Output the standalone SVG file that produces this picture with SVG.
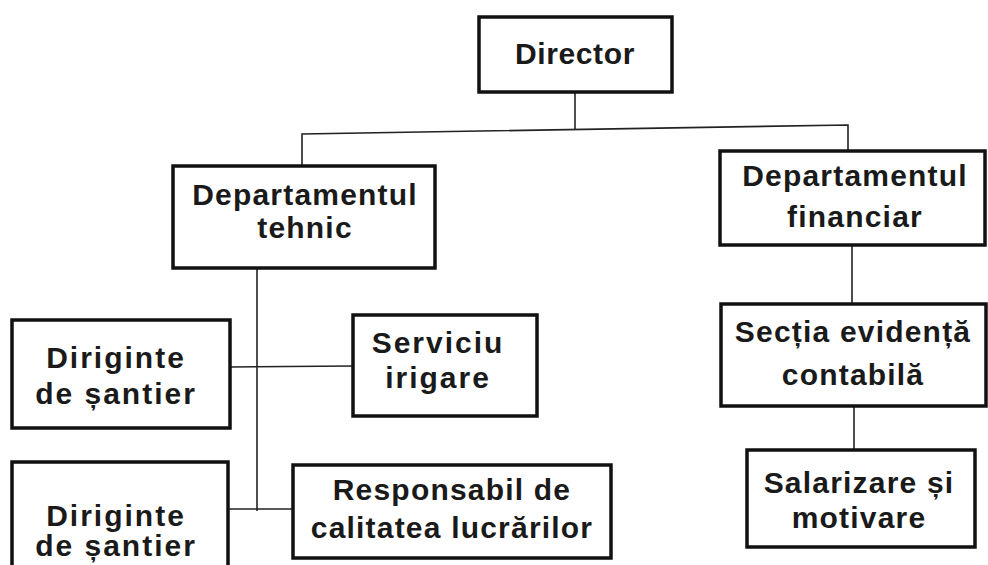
<svg xmlns="http://www.w3.org/2000/svg" width="988" height="565" viewBox="0 0 988 565">
<style>
.box{fill:#fff;stroke:#111;stroke-width:3.5}
.ln{fill:none;stroke:#222;stroke-width:1.6}
text{font-family:"Liberation Sans",Arial,sans-serif;font-weight:bold;font-size:30px;fill:#1a1a1a;text-anchor:middle;letter-spacing:1.2px}
.w{letter-spacing:2px}
</style>
<rect width="988" height="565" fill="#fff"/>
<g id="connectors">
<polyline class="ln" points="575,92 575,130"/>
<polyline class="ln" points="302,166 302,134 848,125 848,151"/>
<polyline class="ln" points="852,244 852,305"/>
<polyline class="ln" points="854,407 854,450"/>
<polyline class="ln" points="257,268 257,511"/>
<polyline class="ln" points="230,367 353,366"/>
<polyline class="ln" points="228,509 293,509"/>
</g>
<g id="director">
<rect class="box" x="479" y="17" width="193" height="75"/>
<text x="575" y="64" style="letter-spacing:0.6px">Director</text>
</g>
<g id="dept-tehnic">
<rect class="box" x="173" y="166" width="262" height="102"/>
<text x="305" y="205">Departamentul</text>
<text x="305" y="238">tehnic</text>
</g>
<g id="dept-financiar">
<rect class="box" x="720" y="151" width="265" height="94"/>
<text x="855" y="186">Departamentul</text>
<text x="855" y="227">financiar</text>
</g>
<g id="sectia">
<rect class="box" x="721" y="304" width="265" height="102"/>
<text x="853" y="342">Secția evidență</text>
<text x="853" y="385">contabilă</text>
</g>
<g id="salarizare">
<rect class="box" x="747" y="450" width="228" height="97"/>
<text x="859" y="493">Salarizare și</text>
<text x="859" y="528">motivare</text>
</g>
<g id="diriginte1">
<rect class="box" x="12" y="320" width="218" height="108"/>
<text class="w" x="116" y="368">Diriginte</text>
<text class="w" x="116" y="404">de șantier</text>
</g>
<g id="serviciu">
<rect class="box" x="353" y="315" width="184" height="101"/>
<text class="w" x="438" y="353">Serviciu</text>
<text class="w" x="438" y="388">irigare</text>
</g>
<g id="diriginte2">
<rect class="box" x="12" y="462" width="216" height="110"/>
<text class="w" x="116" y="526">Diriginte</text>
<text class="w" x="116" y="556">de șantier</text>
</g>
<g id="responsabil">
<rect class="box" x="293" y="465" width="318" height="93"/>
<text x="452" y="500">Responsabil de</text>
<text x="452" y="538">calitatea lucrărilor</text>
</g>
</svg>
